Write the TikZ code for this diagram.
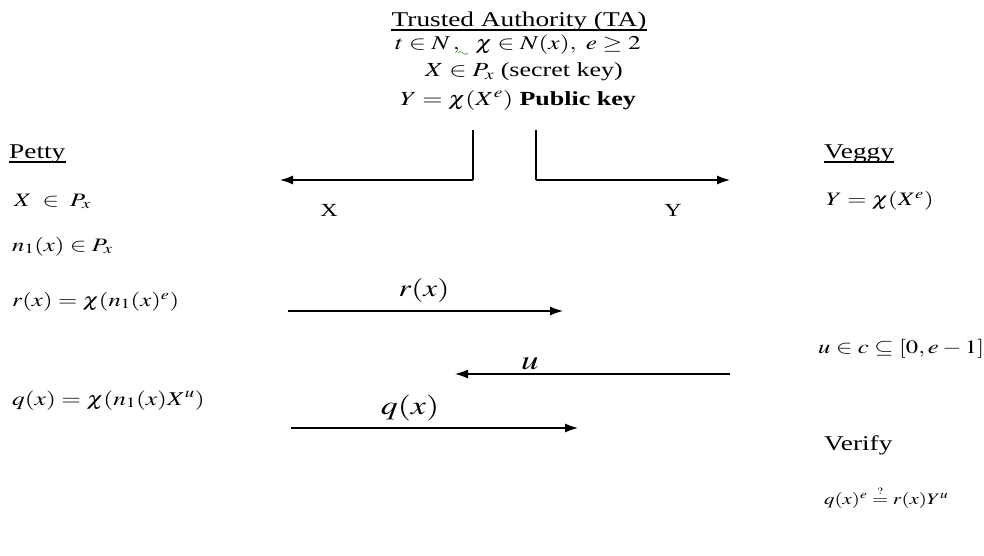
\documentclass[tikz,border=0pt]{standalone}
\usepackage{mathptmx}
\usepackage{graphicx}
\usepackage{fontspec}
\setmainfont{Liberation Serif}
\usetikzlibrary{arrows.meta}
\newcommand\wide[1]{\scalebox{1.3}[1]{#1}}
\definecolor{squig}{RGB}{60,150,60}
\tikzset{
  txt/.style={inner sep=0pt, anchor=base west},
  ctxt/.style={inner sep=0pt, anchor=base},
  arr/.style={-{Latex[length=13pt,width=9pt]}, line width=1.2pt},
  ln/.style={line width=1.2pt},
  uline/.style={line width=1.1pt}
}
\begin{document}
\begin{tikzpicture}[x=1pt,y=-1pt]
\useasboundingbox (0,0) rectangle (984,555);
% Trusted authority
\node[ctxt, font=\fontsize{21}{24}\selectfont] (ta) at (519,26) {\wide{Trusted Authority (TA)}};
\draw[uline] ([yshift=-4pt]ta.base west) -- ([yshift=-4pt]ta.base east);
\node[ctxt, font=\fontsize{19.5}{23}\selectfont] (ta1) at (518,49) {\wide{$t\in N\,,\ \ \chi\in N(x),\ e\geq 2$}};
\draw[squig, line width=0.6pt] (458,53) .. controls (460,51) and (461,51) .. (463,53) .. controls (465,55) and (466,55) .. (468,53);
\node[ctxt, font=\fontsize{20}{23}\selectfont] (ta2) at (524,76) {\wide{$X\in P_x$ (secret key)}};
\node[ctxt, font=\fontsize{20}{23}\selectfont] (ta3) at (518,105) {\wide{$Y=\chi(X^e)$ \textbf{Public key}}};
% TA arrows
\coordinate (lt) at (473,130);
\coordinate (lc) at (473,180);
\coordinate (le) at (280,180);
\coordinate (rt) at (536,130);
\coordinate (rc) at (536,180);
\coordinate (re) at (730,180);
\draw[ln] (lt) -- (lc);
\draw[arr] (lc) -- (le);
\draw[ln] (rt) -- (rc);
\draw[arr] (rc) -- (re);
\node[ctxt, font=\fontsize{18.5}{21}\selectfont] (xl) at (329,216) {\wide{X}};
\node[ctxt, font=\fontsize{18.5}{21}\selectfont] (yl) at (673,216) {\wide{Y}};
% Petty
\node[txt, font=\fontsize{21}{24}\selectfont] (petty) at (9,158) {\wide{Petty}};
\draw[uline] ([yshift=-4pt]petty.base west) -- ([yshift=-4pt]petty.base east);
\node[txt, font=\fontsize{19}{22}\selectfont] (p1) at (14,206) {\wide{$X\;\in\; P_x$}};
\node[txt, font=\fontsize{19}{22}\selectfont] (p2) at (12,251) {\wide{$n_1(x)\in P_x$}};
\node[txt, font=\fontsize{19}{22}\selectfont] (p3) at (12,306) {\wide{$r(x)=\chi(n_1(x)^e)$}};
\node[txt, font=\fontsize{19.5}{22}\selectfont] (p4) at (12,405) {\wide{$q(x)=\chi(n_1(x)X^u)$}};
% Veggy
\node[txt, font=\fontsize{21}{24}\selectfont] (veggy) at (824,158) {\wide{Veggy}};
\draw[uline] ([yshift=-4pt]veggy.base west) -- ([yshift=-4pt]veggy.base east);
\node[txt, font=\fontsize{19}{22}\selectfont] (v1) at (826,205) {\wide{$Y=\chi(X^e)$}};
\node[txt, font=\fontsize{19}{22}\selectfont] (v2) at (818,353) {\wide{$u\in c\subseteq[0,e-1]$}};
\node[txt, font=\fontsize{21}{24}\selectfont] (v3) at (824,450) {\wide{Verify}};
\node[txt, font=\fontsize{16}{20}\selectfont] (v4) at (824,504) {\wide{$q(x)^e\stackrel{\scriptscriptstyle ?}{=}r(x)Y^u$}};
% Messages
\coordinate (r1) at (288,311);
\coordinate (r2) at (563,311);
\draw[arr] (r1) -- (r2);
\node[ctxt, font=\fontsize{24}{27}\selectfont] (rl) at (424,296) {\wide{$r(x)$}};
\coordinate (u1) at (730,374);
\coordinate (u2) at (455,374);
\draw[arr] (u1) -- (u2);
\node[ctxt, font=\fontsize{27}{30}\selectfont] (ul) at (530,369) {\wide{$u$}};
\coordinate (q1) at (291,428);
\coordinate (q2) at (578,428);
\draw[arr] (q1) -- (q2);
\node[ctxt, font=\fontsize{26}{29}\selectfont] (ql) at (410,414) {\wide{$q(x)$}};
\end{tikzpicture}
\end{document}
